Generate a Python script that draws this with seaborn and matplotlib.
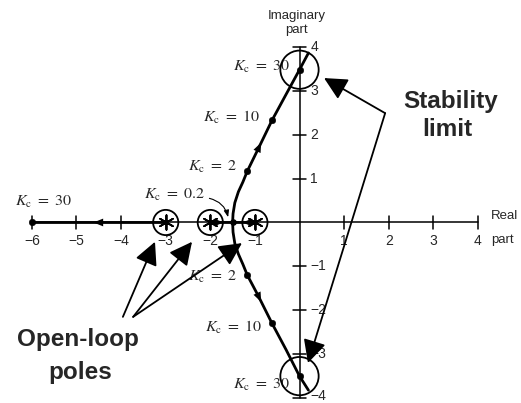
import matplotlib
matplotlib.use("Agg")
import matplotlib.pyplot as plt
import seaborn as sns
import pandas as pd

# ---------------- data ----------------
poles_re = [-3.0, -2.0, -1.0]
x_ticks = [-6, -5, -4, -3, -2, -1, 1, 2, 3, 4]
y_ticks = [4, 3, 2, 1, -1, -2, -3, -4]

upper_re = [-1.50, -1.49, -1.45, -1.37, -1.27, -1.17, -1.05, -0.92, -0.62, -0.30, 0.00, 0.20]
upper_im = [0.00, 0.20, 0.45, 0.70, 0.92, 1.17, 1.42, 1.69, 2.32, 2.92, 3.48, 3.86]
lower_re = [-1.50, -1.49, -1.45, -1.37, -1.27, -1.17, -1.05, -0.92, -0.62, -0.30, 0.00, 0.20]
lower_im = [0.00, -0.22, -0.48, -0.72, -0.95, -1.20, -1.43, -1.68, -2.29, -2.90, -3.50, -3.82]
real_branch_re = [-3.0, -6.0]
inner_branch_re = [-2.0, -1.0]

kc_re = [0.00, -0.61, -1.17, -1.17, -0.61, 0.00, -6.00]
kc_im = [3.48, 2.33, 1.17, -1.20, -2.29, -3.50, 0.00]
breakaway = (-1.50, 0.0)
limit_re = [0.0, 0.0]
limit_im = [3.48, -3.50]

# ---------------- figure ----------------
sns.set_style("white")
plt.rcParams["font.family"] = ["Liberation Sans", "DejaVu Sans"]
plt.rcParams["mathtext.fontset"] = "stix"

fig = plt.figure(figsize=(5.21, 4.03), dpi=100)
ax = fig.add_axes([0, 0, 1, 1])
ax.set_xlim(-6.715, 4.966)
ax.set_ylim(-4.112, 5.068)
ax.axis("off")

K = "black"
# axes
ax.plot([-6, 4], [0, 0], color=K, lw=1.1, zorder=1)
ax.plot([0, 0], [-4, 4], color=K, lw=1.1, zorder=1)
for xt in x_ticks:
    ax.plot([xt, xt], [-0.15, 0.15], color=K, lw=1.1)
    ax.text(xt, -0.43, f"\u2212{abs(xt)}" if xt < 0 else str(xt), ha="center",
            va="center", fontsize=10)
for yt in y_ticks:
    ax.plot([-0.15, 0.15], [yt, yt], color=K, lw=1.1)
    ty = -3.96 if yt == -4 else yt
    ax.text(0.24, ty, f"\u2212{abs(yt)}" if yt < 0 else str(yt), ha="left",
            va="center", fontsize=10)

ax.text(-0.06, 4.64, "Imaginary", ha="center", va="baseline", fontsize=9.5)
ax.text(-0.06, 4.31, "part", ha="center", va="baseline", fontsize=9.5)
ax.text(4.29, 0.08, "Real", ha="left", va="baseline", fontsize=9.5)
ax.text(4.29, -0.47, "part", ha="left", va="baseline", fontsize=9.5)

# locus branches
df_up = pd.DataFrame({"re": upper_re, "im": upper_im})
df_lo = pd.DataFrame({"re": lower_re, "im": lower_im})
sns.lineplot(data=df_up, x="re", y="im", sort=False, color=K, lw=2.0, ax=ax)
sns.lineplot(data=df_lo, x="re", y="im", sort=False, color=K, lw=2.0, ax=ax)
sns.lineplot(x=real_branch_re, y=[0, 0], color=K, lw=2.0, ax=ax)
sns.lineplot(x=inner_branch_re, y=[0, 0], color=K, lw=2.0, ax=ax)

# poles: asterisks in circles
sns.scatterplot(x=poles_re, y=[0] * 3, marker=(6, 2, 0), s=110, color=K,
                linewidth=1.3, ax=ax, zorder=5)
ax.scatter(poles_re, [0] * 3, s=330, facecolors="none", edgecolors=K,
           linewidths=1.3, zorder=5)
# stability-limit circles
ax.scatter(limit_re, limit_im, s=760, facecolors="none", edgecolors=K,
           linewidths=1.3, zorder=5)

# Kc dots
sns.scatterplot(x=kc_re, y=kc_im, s=22, color=K, edgecolor=K, ax=ax, zorder=6)
ax.scatter([breakaway[0]], [breakaway[1]], s=14, color=K, zorder=6)

# Kc labels
fs = 11.5
lab = lambda v: r"$K_{\mathrm{c}}\ =\ \mathrm{" + v + "}$"
for x, y, v, ha in [(-0.21, 3.54, "30", "right"), (-0.89, 2.40, "10", "right"),
                    (-1.40, 1.26, "2", "right"), (-2.12, 0.63, "0.2", "right"),
                    (-1.40, -1.24, "2", "right"), (-0.84, -2.38, "10", "right"),
                    (-0.21, -3.70, "30", "right"), (-6.38, 0.47, "30", "left")]:
    ax.text(x, y, lab(v), ha=ha, va="center", fontsize=fs)

# small Kc=0.2 pointer
ax.annotate("", xy=(-1.60, 0.12), xytext=(-2.02, 0.55),
            arrowprops=dict(arrowstyle="-|>,head_length=4,head_width=1.5",
                            mutation_scale=1, lw=0.8, color=K,
                            connectionstyle="arc3,rad=-0.3",
                            shrinkA=0, shrinkB=0))

# direction arrows on locus
small = dict(arrowstyle="-|>,head_length=7,head_width=2.8", mutation_scale=1,
             lw=0, color=K, shrinkA=0, shrinkB=0)
for tip, tail in [((-4.62, 0), (-4.40, 0)), ((-1.70, 0), (-1.88, 0)),
                  ((-1.28, 0), (-1.10, 0)), ((-0.86, 1.82), (-0.97, 1.58)),
                  ((-0.86, -1.81), (-0.97, -1.57))]:
    ax.annotate("", xy=tip, xytext=tail, arrowprops=small)

# big annotation arrows
big = dict(arrowstyle="-|>,head_length=14,head_width=7", mutation_scale=1,
           lw=1.3, color=K, shrinkA=0, shrinkB=0)
for tip, tail in [((-3.24, -0.44), (-3.96, -2.15)),
                  ((-2.41, -0.44), (-3.73, -2.15)),
                  ((-1.29, -0.47), (-3.73, -2.15))]:
    ax.annotate("", xy=tip, xytext=tail, arrowprops=big)
for tip in [(0.55, 3.29), (0.19, -3.20)]:
    ax.annotate("", xy=tip, xytext=(1.92, 2.49), arrowprops=big)

bf = dict(fontsize=17.5, fontweight="bold", ha="center", va="baseline")
ax.text(-4.96, -2.82, "Open-loop", **bf)
ax.text(-4.92, -3.57, "poles", **bf)
ax.text(3.39, 2.60, "Stability", **bf)
ax.text(3.32, 1.96, "limit", **bf)

fig.savefig("out.png", dpi=100)
